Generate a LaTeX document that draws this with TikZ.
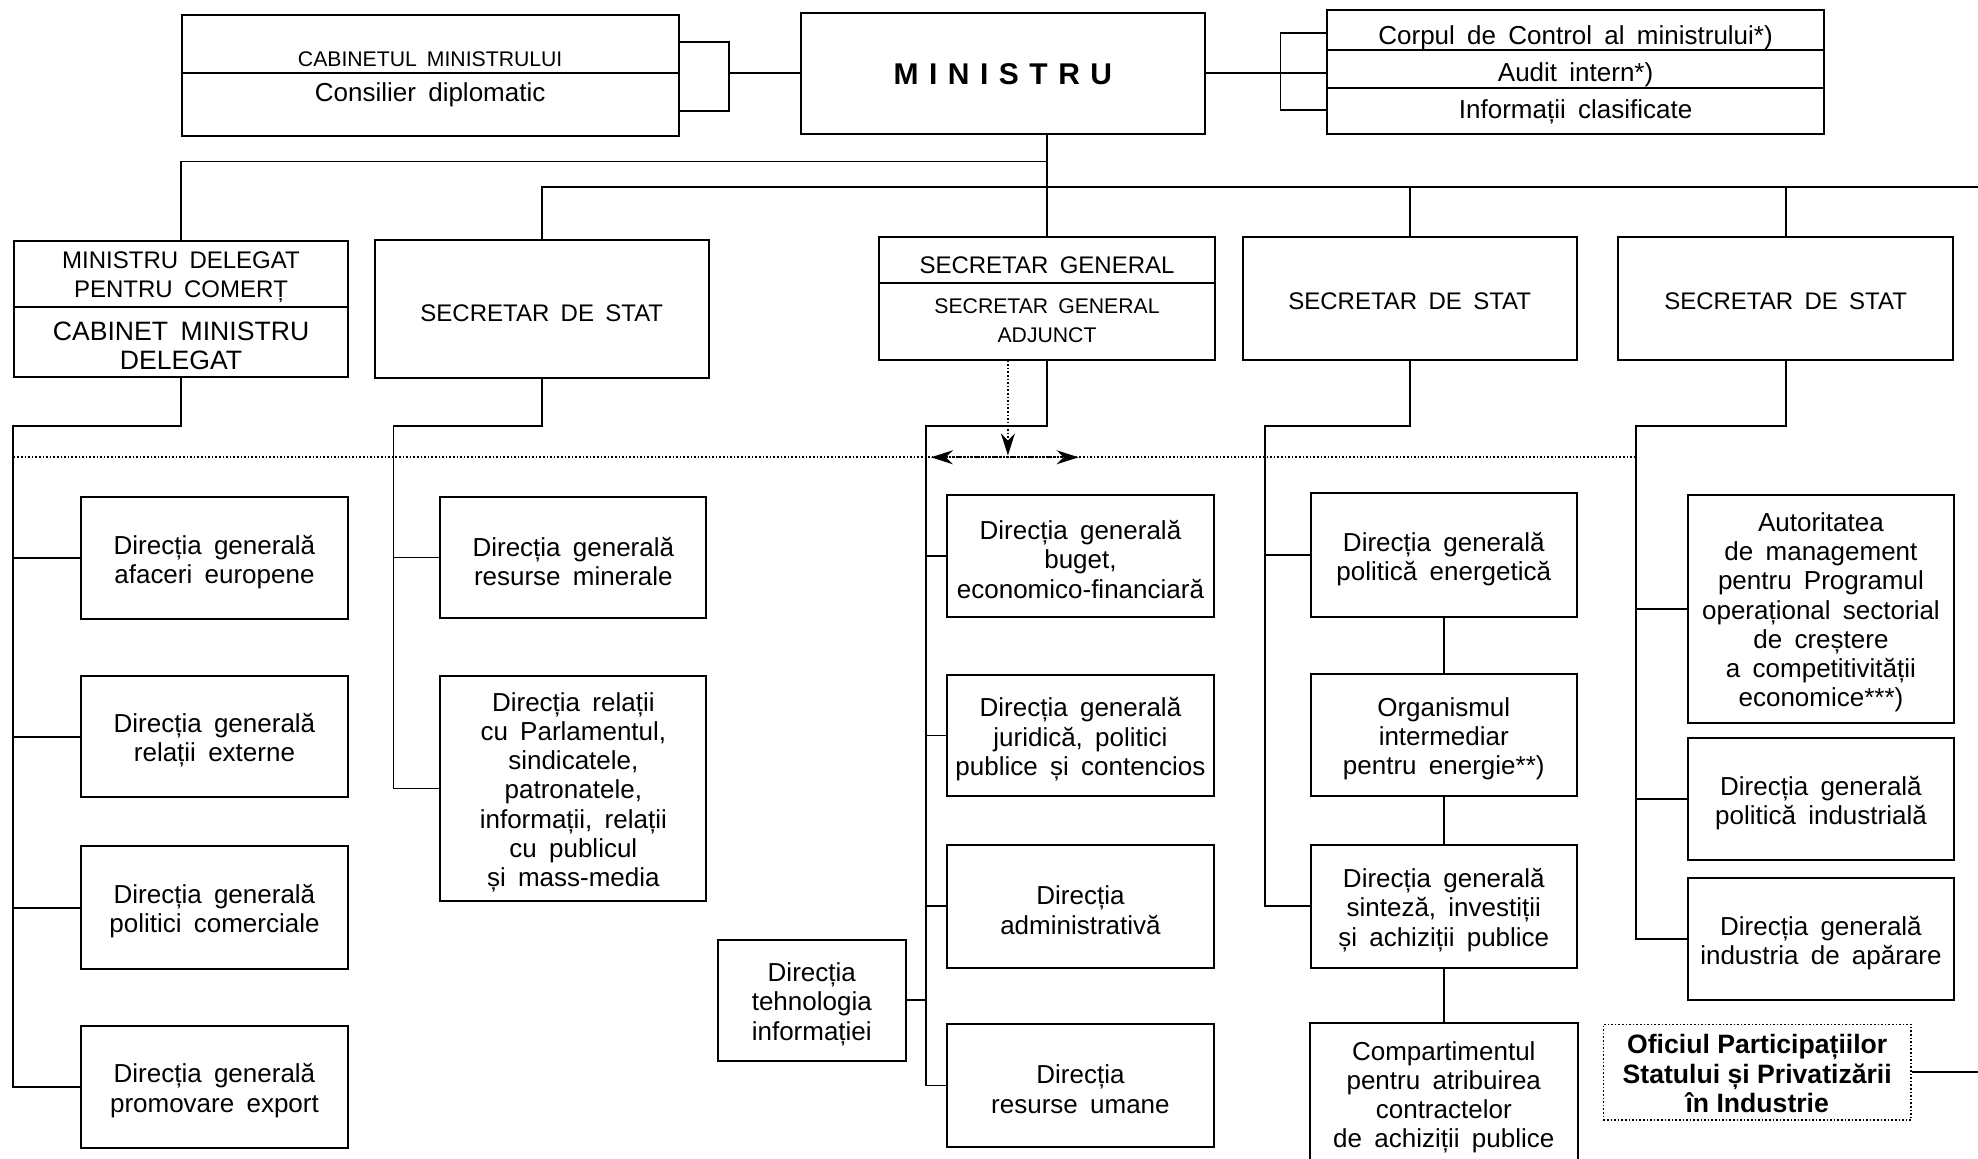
\documentclass[tikz,border=0pt]{standalone}
\usepackage{fontspec}
\setmainfont{Liberation Sans}[WordSpace=1.7]
\newfontfamily\boldfam{Liberation Sans}[WordSpace=1.0]
\newfontfamily\spacedfam{Liberation Sans}[LetterSpace=35]
\usetikzlibrary{arrows.meta}
\newcommand{\fsN}{\fontsize{13}{14.6}\selectfont}
\newcommand{\fsS}{\fontsize{10.6}{14.6}\selectfont}
\newcommand{\fsM}{\fontsize{12}{14.6}\selectfont}
\newcommand{\fsL}{\fontsize{13.3}{14.6}\selectfont}
\tikzset{mytip/.tip={Stealth[length=11pt,width=7pt]}}
\def\bxdy{3}
% box from corner (x1,y1) to (x2,y2), in picture units; text node slightly lowered
\newcommand{\bx}[7][]{%
  \pgfmathsetmacro{\bxcx}{(#3+#5)/2}%
  \pgfmathsetmacro{\bxcy}{(#4+#6)/2}%
  \pgfmathsetmacro{\bxty}{(#4+#6)/2+\bxdy}%
  \pgfmathsetmacro{\bxw}{(#5-#3)*0.6308}%
  \pgfmathsetmacro{\bxh}{(#6-#4)*0.6308}%
  \node[box, minimum width=\bxw pt, minimum height=\bxh pt, #1] (#2) at (\bxcx,\bxcy) {};
  \node[box, #1, draw=none] (#2-t) at (\bxcx,\bxty) {#7};}
\begin{document}
\begin{tikzpicture}[x=0.6308pt, y=-0.6308pt,
  box/.style={draw, line width=1pt, inner sep=0pt, align=center, font=\fsN},
  plain/.style={inner sep=0pt, align=center, font=\fsN},
  conn/.style={line width=0.9pt},
  dotline/.style={line width=0.8pt, densely dotted}]
\useasboundingbox (0,0) rectangle (1568,918);

% ---------- top row ----------
\bx{CAB}{144}{12}{538}{108}{}
\coordinate (cabdiv) at (0,58);
\draw[line width=1pt] (CAB.west |- cabdiv) -- (CAB.east |- cabdiv);
\node[plain, font=\fsS] (CABt1) at (341,47) {CABINETUL MINISTRULUI};
\node[plain] (CABt2) at (341,75) {Consilier diplomatic};

\def\bxdy{1}
\bx[font=\spacedfam\bfseries\fontsize{15}{18}\selectfont]{MIN}{635}{10}{955}{106}{MINISTRU}
\def\bxdy{3}

\bx{RB}{1052}{8}{1446}{106}{}
\coordinate (rbd1) at (0,40);
\coordinate (rbd2) at (0,70);
\draw[line width=1pt] (RB.west |- rbd1) -- (RB.east |- rbd1);
\draw[line width=1pt] (RB.west |- rbd2) -- (RB.east |- rbd2);
\node[plain] (RBt1) at (1249,30) {Corpul de Control al ministrului*)};
\node[plain] (RBt2) at (1249,59) {Audit intern*)};
\node[plain] (RBt3) at (1249,89) {Informații clasificate};

% brackets
\coordinate (cbt) at (578,33);
\coordinate (cbb) at (578,88);
\draw[conn] (cbt -| CAB.east) -- (cbt) -- (cbb) -- (cbb -| CAB.east);
\draw[conn] (MIN.west) -- (MIN.west -| cbt);
\coordinate (rbt) at (1015,26);
\coordinate (rbb) at (1015,87);
\draw[conn] (rbt -| RB.west) -- (rbt) -- (rbb) -- (rbb -| RB.west);
\draw[conn] (MIN.east) -- (MIN.east -| RB.west);

% ---------- second level ----------
\bx[font=\fsM]{MDCa}{11}{191}{276}{243}{MINISTRU DELEGAT\\PENTRU COMERȚ}
\bx[font=\fsL]{MDCb}{11}{243}{276}{299}{CABINET MINISTRU\\DELEGAT}
\bx[font=\fsM]{SS1}{297}{190}{562}{300}{SECRETAR DE STAT}
\def\bxdy{4}
\bx[font=\fsM]{SGa}{697}{188}{963}{224}{SECRETAR GENERAL}
\def\bxdy{0}
\bx[font=\fsS]{SGb}{697}{224}{963}{285}{SECRETAR GENERAL\\ADJUNCT}
\def\bxdy{2}
\bx[font=\fsM]{SS2}{985}{188}{1250}{285}{SECRETAR DE STAT}
\bx[font=\fsM]{SS3}{1283}{188}{1548}{285}{SECRETAR DE STAT}
\def\bxdy{3}

\coordinate (bus1) at (0,128);
\coordinate (bus2) at (0,148);
\coordinate (edgeR) at (1568,148);
\draw[conn] (MIN.south -| SGa.north) -- (SGa.north);
\draw[conn] (MDCa.north) |- (bus1 -| SGa.north);
\draw[conn] (SS1.north) |- (edgeR);
\draw[conn] (SS2.north) -- (SS2.north |- bus2);
\draw[conn] (SS3.north) -- (SS3.north |- bus2);

% ---------- third level boxes ----------
\bx{B1}{64}{394}{276}{491}{Direcția generală\\afaceri europene}
\bx{B2}{64}{536}{276}{632}{Direcția generală\\relații externe}
\bx{B3}{64}{671}{276}{768}{Direcția generală\\politici comerciale}
\bx{B4}{64}{813}{276}{910}{Direcția generală\\promovare export}

\bx{C1}{349}{394}{560}{490}{Direcția generală\\resurse minerale}
\bx{C2}{349}{536}{560}{714}{Direcția relații\\cu Parlamentul,\\sindicatele,\\patronatele,\\informații, relații\\cu publicul\\și mass-media}

\bx{D1}{751}{392}{962}{489}{Direcția generală\\buget,\\economico-financiară}
\bx{D2}{751}{535}{962}{631}{Direcția generală\\juridică, politici\\publice și contencios}
\bx{D3}{751}{670}{962}{767}{Direcția\\administrativă}
\bx{D4}{751}{812}{962}{909}{Direcția\\resurse umane}
\bx{DT}{569}{745}{718}{841}{Direcția\\tehnologia\\informației}

\bx{E1}{1039}{391}{1250}{489}{Direcția generală\\politică energetică}
\bx{E2}{1039}{534}{1250}{631}{Organismul\\intermediar\\pentru energie**)}
\bx{E3}{1039}{670}{1250}{767}{Direcția generală\\sinteză, investiții\\și achiziții publice}
\bx[draw=none]{E4}{1039}{812}{1250}{922}{Compartimentul\\pentru atribuirea\\contractelor\\de achiziții publice}
\draw[line width=1pt] (E4.south west) -- (E4.north west) -- (E4.north east) -- (E4.south east);

\bx{F1}{1338}{392}{1549}{573}{Autoritatea\\de management\\pentru Programul\\operațional sectorial\\de creștere\\a competitivității\\economice***)}
\bx{F2}{1338}{585}{1549}{682}{Direcția generală\\politică industrială}
\bx{F3}{1338}{696}{1549}{793}{Direcția generală\\industria de apărare}

\def\bxdy{1}
\bx[dotline, font=\boldfam\bfseries\fontsize{13.3}{14.6}\selectfont]{OF}{1271}{812}{1515}{888}{Oficiul Participațiilor\\Statului și Privatizării\\în Industrie}
\def\bxdy{3}
\coordinate (ofR) at (1568,0);
\draw[conn] (OF.east) -- (OF.east -| ofR);

% ---------- third level connectors ----------
\coordinate (lowA) at (0,338);
\draw[conn] (MDCb.south) |- (lowA -| MDCb.west) -- (MDCb.west |- B4.west) -- (B4.west);
\foreach \b in {B1,B2,B3} \draw[conn] (\b.west -| MDCb.west) -- (\b.west);

\coordinate (x2) at (312,0);
\draw[conn] (SS1.south) |- (lowA -| x2) -- (x2 |- C2.west) -- (C2.west);
\draw[conn] (x2 |- C1.west) -- (C1.west);

\coordinate (x3) at (734,0);
\draw[conn] (SGb.south) |- (lowA -| x3) -- (x3 |- D4.west) -- (D4.west);
\foreach \b in {D1,D2,D3} \draw[conn] (\b.west -| x3) -- (\b.west);
\draw[conn] (DT.east) -- (DT.east -| x3);

\coordinate (x4) at (1003,0);
\draw[conn] (SS2.south) |- (lowA -| x4) -- (x4 |- E3.west) -- (E3.west);
\draw[conn] (x4 |- E1.west) -- (E1.west);
\draw[conn] (E1.south) -- (E2.north);
\draw[conn] (E2.south) -- (E3.north);
\draw[conn] (E3.south) -- (E4.north);

\coordinate (x5) at (1297,0);
\draw[conn] (SS3.south) |- (lowA -| x5) -- (x5 |- F3.west) -- (F3.west);
\foreach \b in {F1,F2} \draw[conn] (\b.west -| x5) -- (\b.west);

% ---------- dotted line and arrows ----------
\coordinate (dotL) at (11,362.5);
\coordinate (dotR) at (1297,362.5);
\draw[dotline] (dotL) -- (dotR);
\coordinate (arL) at (738,362.5);
\coordinate (arR) at (855,362.5);
\draw[dotline, mytip-mytip] (arL) -- (arR);
\coordinate (arD) at (799,361);
\draw[dotline, -mytip] (SGb.south -| arD) -- (arD);
\end{tikzpicture}
\end{document}
